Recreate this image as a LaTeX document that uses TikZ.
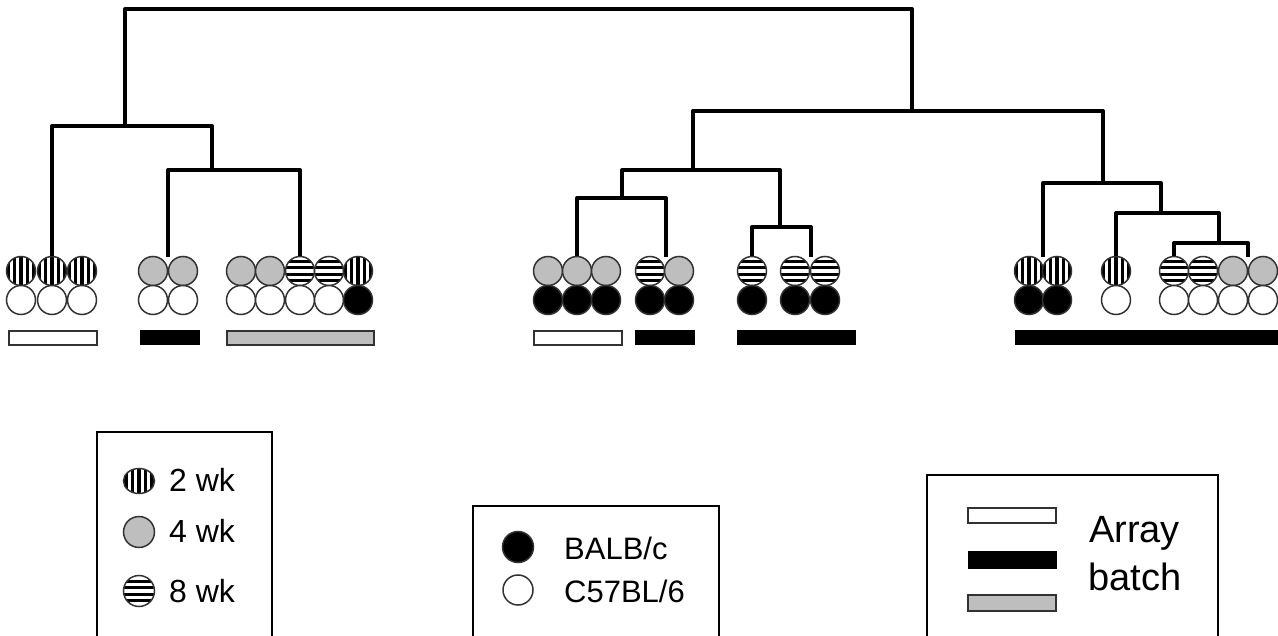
\documentclass[tikz,border=0pt]{standalone}
\usepackage{fontspec}
\setmainfont{Liberation Sans}
\usetikzlibrary{shapes.geometric}
\definecolor{lgray}{RGB}{190,190,190}
\definecolor{edgec}{RGB}{50,50,50}
\begin{document}
\begin{tikzpicture}[x=1pt,y=-1pt,
  tree/.style={line width=4pt,line join=round},
  smp/.style={circle,inner sep=0pt,minimum size=29pt,draw=edgec,line width=1.5pt},
  vstripe/.style={path picture={\begin{scope}[shift={(path picture bounding box.center)}]\foreach \d in {-13,-6.5,0,6.5,13}{\fill[black] (\d-1.7,-20) rectangle (\d+1.7,20);}\end{scope}}},
  hstripe/.style={path picture={\begin{scope}[shift={(path picture bounding box.center)}]\foreach \d in {-9.75,-3.25,3.25,9.75}{\fill[black] (-20,\d-1.6) rectangle (20,\d+1.6);}\end{scope}}},
  wkA/.style={smp,fill=white,vstripe},
  wkB/.style={smp,fill=lgray},
  wkC/.style={smp,fill=white,hstripe},
  bl/.style={smp,fill=black},
  wh/.style={smp,fill=white},
  batchW/.style={draw=edgec,line width=1.3pt,fill=white},
  batchK/.style={draw=black,line width=1pt,fill=black},
  batchG/.style={draw=edgec,line width=1.3pt,fill=lgray},
  legbox/.style={draw=black,line width=2pt},
  legtxt/.style={inner sep=0pt,anchor=base west}
]
\clip (0,0) rectangle (1278,636);
% group 1
\node[wkA] (g1t1) at (21,271) {};
\node[wkA] (g1t2) at (52,271) {};
\node[wkA] (g1t3) at (82,271) {};
\node[wh] (g1b1) at (21,300) {};
\node[wh] (g1b2) at (52,300) {};
\node[wh] (g1b3) at (82,300) {};
% group 2
\node[wkB] (g2t1) at (153,271) {};
\node[wkB] (g2t2) at (183,271) {};
\node[wh] (g2b1) at (153,300) {};
\node[wh] (g2b2) at (183,300) {};
% group 3
\node[wkB] (g3t1) at (241,271) {};
\node[wkB] (g3t2) at (270,271) {};
\node[wkC] (g3t3) at (300,271) {};
\node[wkC] (g3t4) at (329,271) {};
\node[wkA] (g3t5) at (358,271) {};
\node[wh] (g3b1) at (241,300) {};
\node[wh] (g3b2) at (270,300) {};
\node[wh] (g3b3) at (300,300) {};
\node[wh] (g3b4) at (329,300) {};
\node[bl] (g3b5) at (358,300) {};
% group 4
\node[wkB] (g4t1) at (548,271) {};
\node[wkB] (g4t2) at (577,271) {};
\node[wkB] (g4t3) at (606,271) {};
\node[bl] (g4b1) at (548,300) {};
\node[bl] (g4b2) at (577,300) {};
\node[bl] (g4b3) at (606,300) {};
% group 5
\node[wkC] (g5t1) at (650,271) {};
\node[wkB] (g5t2) at (679,271) {};
\node[bl] (g5b1) at (650,300) {};
\node[bl] (g5b2) at (679,300) {};
% group 6
\node[wkC] (g6t1) at (752,271) {};
\node[wkC] (g6t2) at (795,271) {};
\node[wkC] (g6t3) at (825,271) {};
\node[bl] (g6b1) at (752,300) {};
\node[bl] (g6b2) at (795,300) {};
\node[bl] (g6b3) at (825,300) {};
% group 7
\node[wkA] (g7t1) at (1029,271) {};
\node[wkA] (g7t2) at (1057,271) {};
\node[bl] (g7b1) at (1029,300) {};
\node[bl] (g7b2) at (1057,300) {};
% group 8
\node[wkA] (g8t1) at (1116,271) {};
\node[wh] (g8b1) at (1116,300) {};
% group 9
\node[wkC] (g9t1) at (1174,271) {};
\node[wkC] (g9t2) at (1203,271) {};
\node[wkB] (g9t3) at (1233,271) {};
\node[wkB] (g9t4) at (1263,271) {};
\node[wh] (g9b1) at (1174,300) {};
\node[wh] (g9b2) at (1203,300) {};
\node[wh] (g9b3) at (1233,300) {};
\node[wh] (g9b4) at (1263,300) {};
% leaf points between circles
\coordinate (l2) at (168,257);
\coordinate (l5) at (666,257);
\coordinate (l6) at (811,257);
\coordinate (l7) at (1043,257);
\coordinate (l9) at (1248,257);
% internal nodes
\coordinate (root) at (518,9);
\coordinate (nA) at (125,126);
\coordinate (nB) at (212,170);
\coordinate (nC) at (912,111);
\coordinate (nD) at (693,170);
\coordinate (nE) at (622,198);
\coordinate (nF) at (780,227);
\coordinate (nG) at (1103,183);
\coordinate (nH) at (1161,213);
\coordinate (nI) at (1219,243);
% tree
\draw[tree] (nA) |- (root);
\draw[tree] (nC) |- (root);
\draw[tree] (g1t2.north) |- (nA);
\draw[tree] (nB) |- (nA);
\draw[tree] (l2) |- (nB);
\draw[tree] (g3t3.north) |- (nB);
\draw[tree] (nD) |- (nC);
\draw[tree] (nG) |- (nC);
\draw[tree] (nE) |- (nD);
\draw[tree] (nF) |- (nD);
\draw[tree] (g4t2.north) |- (nE);
\draw[tree] (l5) |- (nE);
\draw[tree] (g6t1.north) |- (nF);
\draw[tree] (l6) |- (nF);
\draw[tree] (l7) |- (nG);
\draw[tree] (nH) |- (nG);
\draw[tree] (g8t1.north) |- (nH);
\draw[tree] (nI) |- (nH);
\draw[tree] (g9t1.north) |- (nI);
\draw[tree] (l9) |- (nI);
% array batch bars
\draw[batchW] (9,331) rectangle (97,345);
\draw[batchK] (140,331) rectangle (199,345);
\draw[batchG] (227,331) rectangle (374,345);
\draw[batchW] (534,331) rectangle (622,345);
\draw[batchK] (635,331) rectangle (694,345);
\draw[batchK] (737,331) rectangle (855,345);
\draw[batchK] (1015,331) rectangle (1285,345);
% legend 1: age
\draw[legbox] (97,432) rectangle (272,650);
\node[wkA,shape=ellipse,minimum width=31pt,minimum height=25pt] (k2) at (139,481) {};
\node[wkB,minimum size=31pt] (k4) at (139,532) {};
\node[wkC,minimum size=31pt] (k8) at (139,591) {};
\node[legtxt,font=\fontsize{32}{38}\selectfont] (t2) at (169,491) {2 wk};
\node[legtxt,font=\fontsize{32}{38}\selectfont] (t4) at (169,542) {4 wk};
\node[legtxt,font=\fontsize{32}{38}\selectfont] (t8) at (169,602) {8 wk};
% legend 2: strain
\draw[legbox] (473,506) rectangle (719,650);
\node[bl,minimum size=31pt] (sb) at (518,547) {};
\node[wh,minimum size=30pt] (sw) at (518,590) {};
\node[legtxt,font=\fontsize{31}{37}\selectfont] (tb) at (564,559) {BALB/c};
\node[legtxt,font=\fontsize{31}{37}\selectfont] (tc) at (564,602) {C57BL/6};
% legend 3: array batch
\draw[legbox] (927,475) rectangle (1218,650);
\draw[batchW] (968,508) rectangle (1056,523);
\draw[batchK] (968,551) rectangle (1056,568);
\draw[batchG] (968,595) rectangle (1056,611);
\node[legtxt,font=\fontsize{38}{44}\selectfont] (ta) at (1089,542) {Array};
\node[legtxt,font=\fontsize{38}{44}\selectfont] (tbt) at (1088,590) {batch};
\end{tikzpicture}
\end{document}
